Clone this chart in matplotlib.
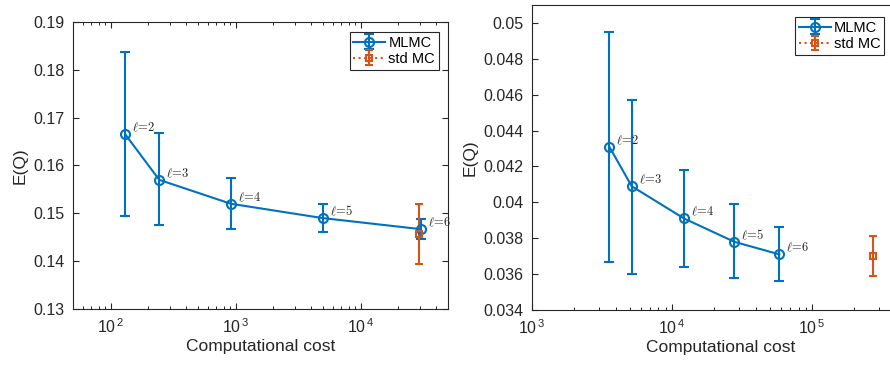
import numpy as np
import matplotlib.pyplot as plt
from matplotlib.ticker import FuncFormatter, LogLocator

plt.rcParams['font.family'] = ['Liberation Sans', 'DejaVu Sans']
plt.rcParams['mathtext.fontset'] = 'cm'

blue = '#0072BD'
orange = '#D95319'

# left panel
cost_a = [131, 245, 916, 4990, 30200]
mean_a = [0.1665, 0.1570, 0.1520, 0.1490, 0.1467]
lo_a = [0.1494, 0.1475, 0.1467, 0.1460, 0.1447]
hi_a = [0.1837, 0.1667, 0.1573, 0.1520, 0.1488]
mc_cost_a = [29100]
mc_mean_a = [0.1457]
mc_lo_a = [0.1395]
mc_hi_a = [0.1520]

# right panel
cost_b = [3565, 5150, 12180, 27870, 58400]
mean_b = [0.0431, 0.0409, 0.0391, 0.0378, 0.0371]
lo_b = [0.0367, 0.0360, 0.0364, 0.0358, 0.0356]
hi_b = [0.0495, 0.0457, 0.0418, 0.0399, 0.0386]
mc_cost_b = [270000]
mc_mean_b = [0.0370]
mc_lo_b = [0.0359]
mc_hi_b = [0.0381]

levels = [2, 3, 4, 5, 6]

fig = plt.figure(figsize=(8.9, 3.65), dpi=100)
ax1 = fig.add_axes([73/890, 56/365, 375/890, 287/365])
ax2 = fig.add_axes([532/890, 55/365, 378/890, 305/365])

dark = '#262626'


def pow_fmt(x, pos):
    e = int(round(np.log10(x)))
    return r'$\mathregular{10^{\,%d}}$' % e


def panel(ax, cost, mean, lo, hi, mcc, mcm, mcl, mch, xlim, ylim, yticks, legpos):
    mean = np.array(mean)
    err = [mean - np.array(lo), np.array(hi) - mean]
    ax.errorbar(cost, mean, yerr=err, color=blue, marker='o', mfc='none',
                ms=6.5, mew=1.5, lw=1.5, capsize=3.5, capthick=1.5, label='MLMC')
    mcm = np.array(mcm)
    mcerr = [mcm - np.array(mcl), np.array(mch) - mcm]
    ax.errorbar(mcc, mcm, yerr=mcerr, color=orange, marker='s', mfc='none',
                ms=5, mew=1.5, lw=1.5, ls=':', capsize=3, capthick=1.5, label='std MC')
    for c, m, l in zip(cost, mean, levels):
        ax.annotate(r'$\ell\!=\!%d$' % l, (c, m), xytext=(5, 2),
                    textcoords='offset points', fontsize=9, color=dark)
    ax.set_xscale('log')
    ax.set_xlim(*xlim)
    ax.set_ylim(*ylim)
    ax.xaxis.set_major_locator(LogLocator(base=10))
    ax.xaxis.set_major_formatter(FuncFormatter(pow_fmt))
    ax.set_yticks(yticks)
    ax.set_yticklabels(['%g' % t for t in yticks])
    ax.set_xlabel('Computational cost', fontsize=12.5, color=dark, labelpad=2)
    ax.set_ylabel('E(Q)', fontsize=12.5, color=dark, labelpad=4)
    ax.tick_params(direction='in', labelsize=11.5, colors=dark, length=4, pad=6)
    ax.tick_params(which='minor', direction='in', length=2.5)
    for s in ax.spines.values():
        s.set_color(dark)
        s.set_linewidth(0.8)
    leg = ax.legend(loc='upper right', bbox_to_anchor=legpos, fontsize=10.5,
                    fancybox=False, framealpha=1, edgecolor=dark,
                    handlelength=2.2, borderpad=0.25, labelspacing=0.15,
                    handletextpad=0.2, borderaxespad=0)
    leg.get_frame().set_linewidth(0.8)


panel(ax1, cost_a, mean_a, lo_a, hi_a, mc_cost_a, mc_mean_a, mc_lo_a, mc_hi_a,
      (50, 5e4), (0.13, 0.19), [0.13, 0.14, 0.15, 0.16, 0.17, 0.18, 0.19],
      (0.975, 0.965))
ax1.tick_params(which='both', top=True, right=True)

panel(ax2, cost_b, mean_b, lo_b, hi_b, mc_cost_b, mc_mean_b, mc_lo_b, mc_hi_b,
      (1e3, 5e5), (0.034, 0.051),
      [0.034, 0.036, 0.038, 0.04, 0.042, 0.044, 0.046, 0.048, 0.05],
      (0.931, 0.96))

fig.savefig('out.png', dpi=100)
